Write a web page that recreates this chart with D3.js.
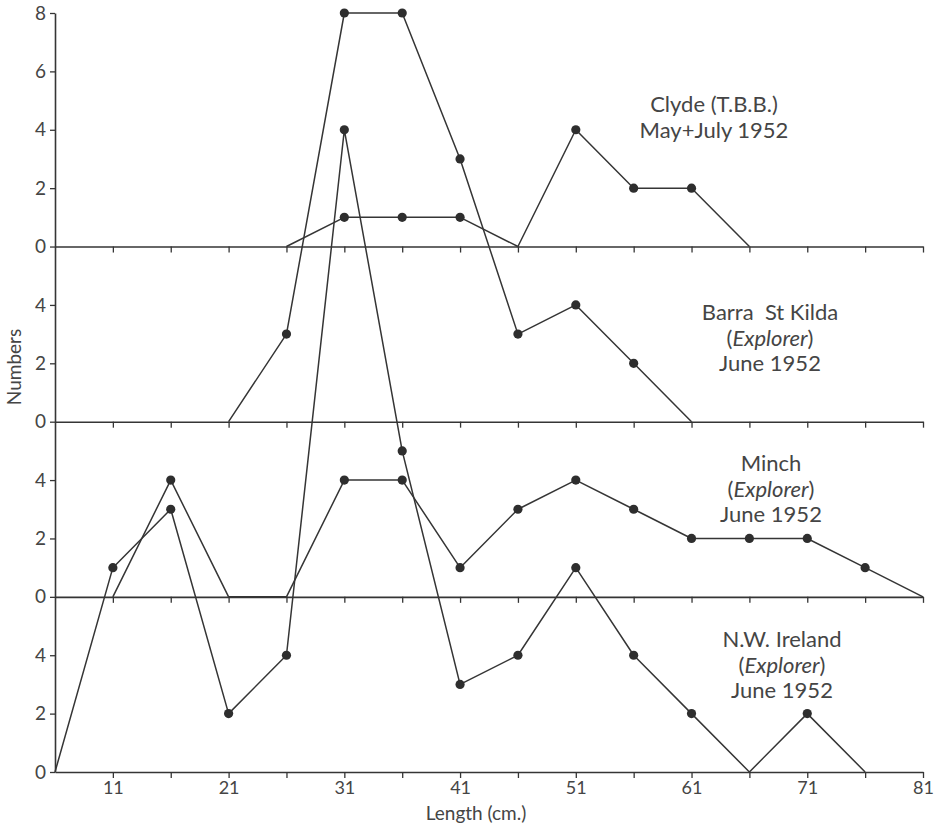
<!DOCTYPE html>
<html>
<head>
<meta charset="utf-8">
<script src="https://cdn.jsdelivr.net/npm/d3@7"></script>
<style>
  html, body { margin: 0; padding: 0; background: #fff; }
  svg { display: block; }
  text { font-family: Lato, "Open Sans", sans-serif; fill: #454545; }
</style>
</head>
<body>
<svg id="chart" width="944" height="827"></svg>
<script>
// Length classes (cm) at which each sample is counted
const lengthCm = [6, 11, 16, 21, 26, 31, 36, 41, 46, 51, 56, 61, 66, 71, 76, 81];

// Numbers of fish per length class; null where a sample's curve is not drawn
const clydeCounts     = [null, null, null, null, 0, 1, 1, 1, 0, 4, 2, 2, 0, null, null, null];
const barraCounts     = [null, null, null, 0, 3, 14, 14, 9, 3, 4, 2, 0, null, null, null, null];
const minchCounts     = [null, 0, 4, 0, 0, 4, 4, 1, 3, 4, 3, 2, 2, 2, 1, 0];
const nwIrelandCounts = [0, 7, 9, 2, 4, 22, 11, 3, 4, 7, 4, 2, 0, 2, 0, null];

// Each sample sits on its own zero line, stacked upward
const panelOffsets = [18, 12, 6, 0];
const panelTicks   = [[0, 2, 4, 6, 8], [0, 2, 4], [0, 2, 4], [0, 2, 4]];
const panelLabels  = [
  ["Clyde (T.B.B.)", "May+July 1952"],
  ["Barra\u00a0 St Kilda", "(Explorer)", "June 1952"],
  ["Minch", "(Explorer)", "June 1952"],
  ["N.W. Ireland", "(Explorer)", "June 1952"]
];

const xLabelTicks = [11, 21, 31, 41, 51, 61, 71, 81];
const xMinorTicks = [16, 26, 36, 46, 56, 66, 76];

const svg = d3.select("#chart");
const ink = "#353535";
const font = "Lato, 'Open Sans', sans-serif";

const x = d3.scaleLinear().domain([6, 81]).range([55, 923]);
const y = d3.scaleLinear().domain([0, 26]).range([772, 13]);

const allXTicks = xLabelTicks.concat(xMinorTicks).sort((a, b) => a - b);

// Zero line with downward ticks for every panel
panelOffsets.forEach(off => {
  const isBottom = off === 0;
  const ax = d3.axisBottom(x)
    .tickValues(allXTicks)
    .tickSize(6)
    .tickSizeOuter(0)
    .tickPadding(3)
    .tickFormat(d => (isBottom && xLabelTicks.includes(d)) ? d : "");
  const g = svg.append("g")
    .attr("transform", `translate(0,${y(off)})`)
    .call(ax);
  g.select(".domain").attr("stroke", ink).attr("stroke-width", 1.6);
  g.selectAll(".tick line").attr("stroke", ink).attr("stroke-width", 1.3);
  g.selectAll(".tick text")
    .attr("font-size", 18)
    .attr("fill", "#454545")
    .attr("font-family", font);
});

// Vertical axis: one line, tick labels restart at each panel's zero
const yTickVals = [];
panelOffsets.forEach((off, i) => panelTicks[i].forEach(v => yTickVals.push(off + v)));
const labelFor = d => {
  const off = panelOffsets.filter(o => o <= d).reduce((a, b) => Math.max(a, b), 0);
  return d - off;
};
const yAx = d3.axisLeft(y)
  .tickValues(yTickVals)
  .tickSize(5)
  .tickSizeOuter(0)
  .tickPadding(4)
  .tickFormat(labelFor);
const gy = svg.append("g").attr("transform", `translate(${x(6)},0)`).call(yAx);
gy.select(".domain").attr("stroke", ink).attr("stroke-width", 1.6);
gy.selectAll(".tick line").attr("stroke", ink).attr("stroke-width", 1.3);
gy.selectAll(".tick text")
  .attr("font-size", 19)
  .attr("fill", "#454545")
  .attr("font-family", font);

// Sample curves
const series = [clydeCounts, barraCounts, minchCounts, nwIrelandCounts];
series.forEach((counts, i) => {
  const off = panelOffsets[i];
  const pts = lengthCm.map((len, j) => ({ len, n: counts[j] }));
  const line = d3.line()
    .defined(d => d.n !== null)
    .x(d => x(d.len))
    .y(d => y(off + d.n));
  svg.append("path")
    .datum(pts)
    .attr("d", line)
    .attr("fill", "none")
    .attr("stroke", ink)
    .attr("stroke-width", 1.5)
    .attr("stroke-linejoin", "round");
  svg.append("g")
    .selectAll("circle")
    .data(pts.filter(d => d.n !== null && d.n > 0))
    .join("circle")
    .attr("cx", d => x(d.len))
    .attr("cy", d => y(off + d.n))
    .attr("r", 4.6)
    .attr("fill", "#2e2e2e");
});

// Sample captions
const captionPos = [
  { cx: 714, y0: 112 },
  { cx: 770, y0: 320 },
  { cx: 771, y0: 471 },
  { cx: 782, y0: 647 }
];
panelLabels.forEach((lines, i) => {
  const t = svg.append("text")
    .attr("text-anchor", "middle")
    .attr("font-size", 22);
  lines.forEach((s, k) => {
    const ts = t.append("tspan")
      .attr("x", captionPos[i].cx)
      .attr("y", captionPos[i].y0 + k * 25.5);
    if (s === "(Explorer)") {
      ts.append("tspan").text("(");
      ts.append("tspan").attr("font-style", "italic").text("Explorer");
      ts.append("tspan").text(")");
    } else {
      ts.text(s);
    }
  });
});

// Axis titles
svg.append("text")
  .attr("transform", `translate(21,367) rotate(-90)`)
  .attr("text-anchor", "middle")
  .attr("font-size", 19)
  .text("Numbers");

svg.append("text")
  .attr("x", 476)
  .attr("y", 820)
  .attr("text-anchor", "middle")
  .attr("font-size", 19)
  .text("Length (cm.)");
</script>
</body>
</html>
